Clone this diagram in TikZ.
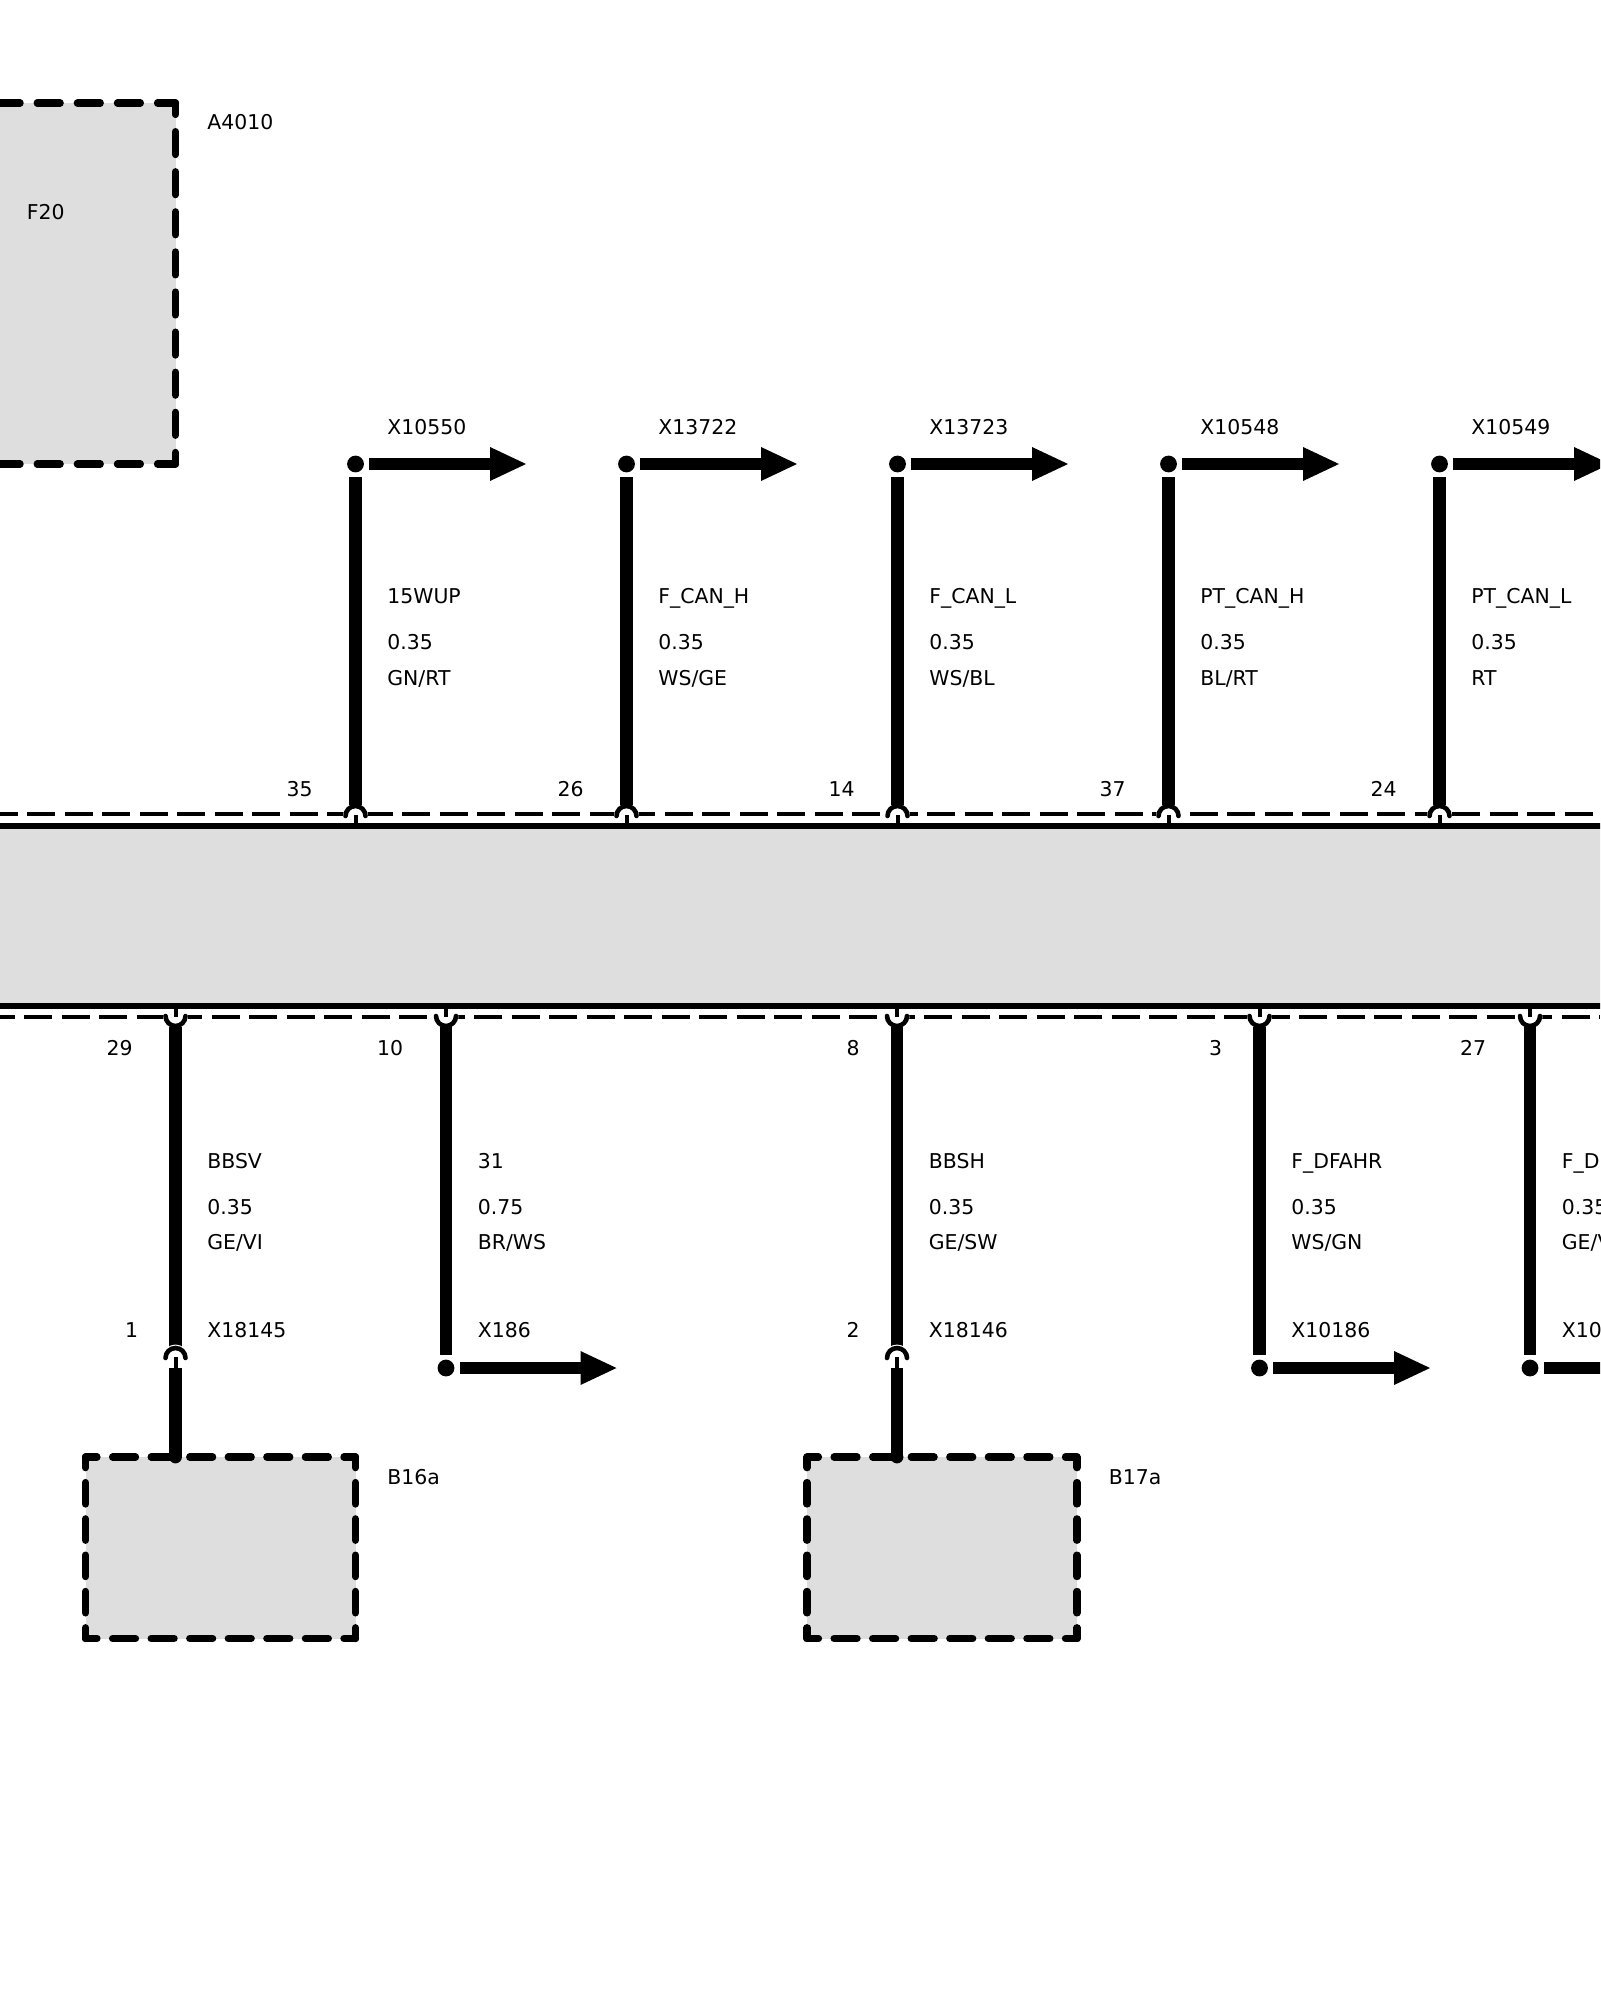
\documentclass[tikz,border=0pt]{standalone}
\usepackage{fontspec}
\setmainfont{DejaVu Sans}
\definecolor{boxGray}{HTML}{DEDEDE}
\tikzset{
  label/.style={anchor=base west, inner sep=0pt, font=\fontsize{10.2}{12}\selectfont},
  pinNum/.style={anchor=base east, inner sep=0pt, font=\fontsize{10.2}{12}\selectfont},
  wire/.style={line width=6.4pt},
  thinWire/.style={line width=2pt},
  pinArc/.style={line width=2.3pt, line cap=round},
  pinGap/.style={circle, fill=white, inner sep=0pt, minimum size=12.5pt},
  busLine/.style={line width=3.4pt},
  busDash/.style={line width=1.8pt, dash pattern=on 14pt off 4.75pt},
  pointDot/.style={circle, fill=black, inner sep=0pt, minimum size=8.4pt},
  outArrow/.style={line width=6.4pt},
  boxFill/.style={fill=boxGray},
  sideH/.style={line width=3.6pt, line cap=round, dash pattern=on 11.5pt off 7.78pt, dash phase=5.75pt},
  sideV/.style={line width=3.6pt, line cap=round, dash pattern=on 10.75pt off 7.4pt, dash phase=5.4pt}
}
\begin{document}
\begin{tikzpicture}[x=0.5pt, y=-0.5pt]
  \clip (0,0) rectangle (1600,2000);
  % control unit at the top
  \fill[boxFill] (-20,103) rectangle (175.5,464);
  \draw[sideH, dash pattern=on 11.5pt off 8.55pt, dash phase=5.75pt] (175.5,103) -- (175.5,464);
  \draw[sideH, dash pattern=on 11.5pt off 8.55pt, dash phase=2.5pt] (175.5,103) -- (-20,103);
  \draw[sideH, dash pattern=on 11.5pt off 8.55pt, dash phase=2.5pt] (175.5,464) -- (-20,464);
  \node[label] (a4010) at (207,130) {A4010};
  \node[label] (f20) at (26.5,220) {F20};
  % dashed connector edges of the bus
  \draw[busDash] (-10.5,814) -- (1600,814);
  \draw[busDash] (-13.3,1017) -- (1600,1017);
  % wires going up
  \foreach \x/\pin/\name/\size/\col/\conn in {
    355.5/35/15WUP/0.35/GN\slash RT/X10550,
    626.5/26/F\_CAN\_H/0.35/WS\slash GE/X13722,
    897.5/14/F\_CAN\_L/0.35/WS\slash BL/X13723,
    1168.5/37/PT\_CAN\_H/0.35/BL\slash RT/X10548,
    1439.5/24/PT\_CAN\_L/0.35/RT/X10549} {
    \node[pinGap] (gap\pin) at (\x,815) {};
    \coordinate (busTop\pin) at (\x,826);
    \coordinate (stub\pin) at (\x,815);
    \coordinate (arcTop\pin) at (\x,805);
    \coordinate (wireEnd\pin) at (\x,477);
    \coordinate (arrowStart\pin) at (\x+13.5,464);
    \coordinate (arrowBody\pin) at (\x+135,464);
    \draw[pinArc] (\x-10,816) arc (180:360:10);
    \draw[thinWire] (stub\pin) -- (busTop\pin);
    \draw[wire] (arcTop\pin) -- (wireEnd\pin);
    \node[pointDot] (dot\pin) at (\x,464) {};
    \draw[outArrow] (arrowStart\pin) -- (arrowBody\pin);
    \fill (\x+134.5,447) -- (\x+170.5,464) -- (\x+134.5,481) -- cycle;
    \node[label] (conn\pin) at (\x+31.5,435) {\conn};
    \node[label] (name\pin) at (\x+31.5,603.5) {\name};
    \node[label] (size\pin) at (\x+31.5,649.5) {\size};
    \node[label] (col\pin) at (\x+31.5,685) {\col};
    \node[pinNum] (num\pin) at (\x-42.5,796) {\pin};
  }
  % wires going down
  \foreach \x/\pin/\off/\name/\size/\col in {
    175.5/29/42.5/BBSV/0.35/GE\slash VI,
    446/10/42.5/31/0.75/BR\slash WS,
    897/8/37/BBSH/0.35/GE\slash SW,
    1259.5/3/37/F\_DFAHR/0.35/WS\slash GN,
    1530/27/43.5/F\_DFAHL/0.35/GE\slash VI} {
    \node[pinGap] (gap\pin) at (\x,1017) {};
    \coordinate (busBot\pin) at (\x,1006);
    \coordinate (stub\pin) at (\x,1017);
    \coordinate (arcBot\pin) at (\x,1027);
    \draw[pinArc] (\x-10,1016) arc (180:0:10);
    \draw[thinWire] (stub\pin) -- (busBot\pin);
    \node[label] (name\pin) at (\x+31.5,1168) {\name};
    \node[label] (size\pin) at (\x+31.5,1214.5) {\size};
    \node[label] (col\pin) at (\x+31.5,1249) {\col};
    \node[pinNum] (num\pin) at (\x-\off,1055) {\pin};
  }
  % the bus itself
  \fill[boxFill] (-5,826) rectangle (1605,1006);
  \draw[busLine] (-5,826) -- (1605,826);
  \draw[busLine] (-5,1006) -- (1605,1006);
  % down wires ending in an arrow
  \foreach \x/\pin/\conn in {446/10/X186, 1259.5/3/X10186, 1530/27/X10187} {
    \coordinate (wireEnd\pin) at (\x,1355);
    \coordinate (arrowStart\pin) at (\x+13.5,1368);
    \coordinate (arrowBody\pin) at (\x+135,1368);
    \draw[wire] (arcBot\pin) -- (wireEnd\pin);
    \node[pointDot] (dot\pin) at (\x,1368) {};
    \draw[outArrow] (arrowStart\pin) -- (arrowBody\pin);
    \fill (\x+134.5,1351) -- (\x+170.5,1368) -- (\x+134.5,1385) -- cycle;
    \node[label] (conn\pin) at (\x+31.5,1337) {\conn};
  }
  % down wires ending in a sensor box
  \foreach \x/\pin/\pinB/\conn/\bname in {175.5/29/1/X18145/B16a, 897/8/2/X18146/B17a} {
    \coordinate (wireEnd\pin) at (\x,1347);
    \coordinate (stubTop\pin) at (\x,1357);
    \coordinate (stubBot\pin) at (\x,1368);
    \coordinate (boxTop\pin) at (\x,1457);
    \draw[wire] (arcBot\pin) -- (wireEnd\pin);
    \fill[boxFill] (\x-90,1457) rectangle (\x+180,1638.5);
    \draw[sideH] (\x-90,1457) -- (\x+180,1457);
    \draw[sideH] (\x-90,1638.5) -- (\x+180,1638.5);
    \draw[sideV] (\x-90,1457) -- (\x-90,1638.5);
    \draw[sideV] (\x+180,1457) -- (\x+180,1638.5);
    \node[pinGap] (gapB\pin) at (\x,1357) {};
    \draw[pinArc] (\x-10,1358) arc (180:360:10);
    \draw[thinWire] (stubTop\pin) -- (stubBot\pin);
    \draw[wire] (stubBot\pin) -- (boxTop\pin);
    \node[pointDot, minimum size=6.4pt] (wireTip\pin) at (boxTop\pin) {};
    \node[label] (conn\pin) at (\x+31.5,1337) {\conn};
    \node[pinNum] (numB\pin) at (\x-37,1337) {\pinB};
    \node[label] (box\pin) at (\x+211.5,1484) {\bname};
  }
\end{tikzpicture}
\end{document}
